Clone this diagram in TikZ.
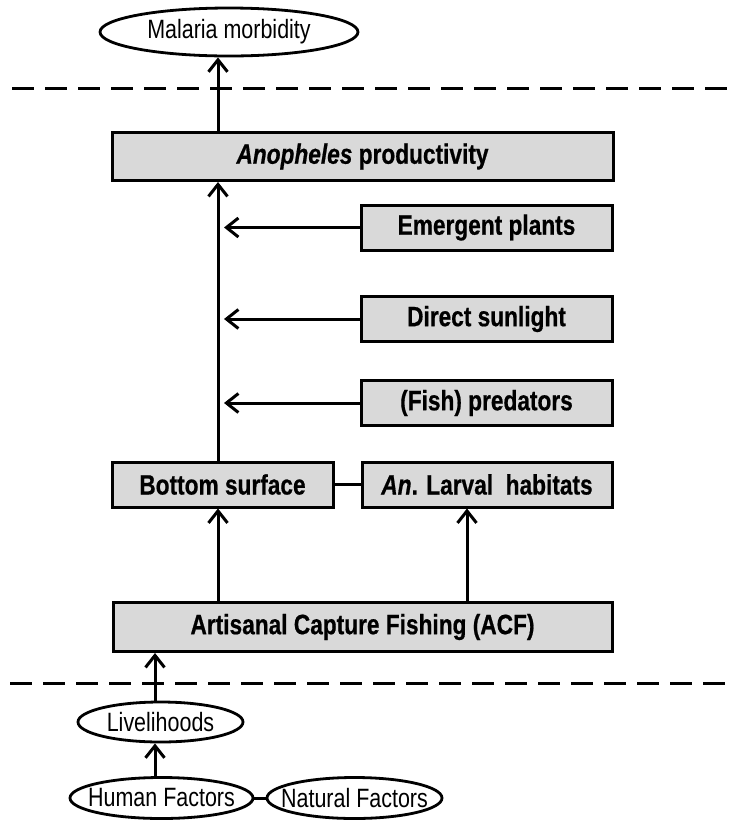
\documentclass[tikz,border=0pt]{standalone}
\usepackage{fontspec}
\setmainfont{Liberation Sans}[FakeStretch=0.81,BoldFeatures={FakeBold=0.6},BoldItalicFeatures={FakeBold=0.6}]
\usetikzlibrary{shapes.geometric,arrows.meta}
\newcommand{\zw}[1]{\makebox[0pt]{#1}}
\begin{document}
\begin{tikzpicture}[x=1pt,y=-1pt,
  box/.style={draw=black,line width=3pt,fill=gray!30,inner sep=0pt,
    font=\fontsize{28}{30}\selectfont\bfseries,align=center},
  oval/.style={draw=black,line width=2.8pt,ellipse,inner sep=0pt,
    font=\fontsize{26.5}{28}\selectfont},
  arr/.style={line width=3pt,-{Straight Barb[length=12pt,width=19pt,line width=3pt]}},
  link/.style={line width=3pt},
  sep/.style={line width=3pt,dash pattern=on 22pt off 11pt}]
\useasboundingbox (0,0) rectangle (735,820);
\node[oval,minimum width=258pt,minimum height=48pt] (mm) at (229,32) {\zw{Malaria morbidity}};
\node[box,minimum width=501pt,minimum height=48pt] (an) at (362.5,156.5) {\textit{Anopheles} productivity};
\node[box,minimum width=251pt,minimum height=45pt] (ep) at (486.5,227.5) {Emergent plants};
\node[box,minimum width=251pt,minimum height=45pt] (ds) at (486.5,319) {Direct sunlight};
\node[box,minimum width=251pt,minimum height=45pt] (fp) at (486.5,403) {(Fish) predators};
\node[box,minimum width=221pt,minimum height=45pt] (bs) at (222.5,484.5) {Bottom surface};
\node[box,minimum width=250pt,minimum height=45pt] (lh) at (487,484.5) {\textit{An}. Larval\ \ habitats};
\node[box,minimum width=499pt,minimum height=49pt] (acf) at (362.5,627) {Artisanal Capture Fishing (ACF)};
\node[oval,minimum width=165pt,minimum height=40pt] (lv) at (160.5,722) {\zw{Livelihoods}};
\node[oval,minimum width=183pt,minimum height=41pt] (hf) at (161.5,798) {\zw{Human Factors}};
\node[oval,minimum width=175pt,minimum height=41pt] (nf) at (354.5,798) {\zw{Natural Factors}};
\coordinate (spine) at (218,0);
\coordinate (tip) at (224,0);
\coordinate (lhx) at (467,0);
\coordinate (lowx) at (155,0);
\coordinate (d1a) at (12,88);
\coordinate (d1b) at (735,88);
\coordinate (d2a) at (10,683);
\coordinate (d2b) at (735,683);
\draw[sep] (d1a) -- (d1b);
\draw[sep] (d2a) -- (d2b);
\draw[arr] (an.north -| spine) -- (mm.south -| spine);
\draw[arr] (bs.north -| spine) -- (an.south -| spine);
\draw[arr] (ep.west) -- (ep.west -| tip);
\draw[arr] (ds.west) -- (ds.west -| tip);
\draw[arr] (fp.west) -- (fp.west -| tip);
\draw[link] (bs.east) -- (lh.west);
\draw[arr] (acf.north -| spine) -- (bs.south -| spine);
\draw[arr] (acf.north -| lhx) -- (lh.south -| lhx);
\draw[arr] (lv.north -| lowx) -- (acf.south -| lowx);
\draw[arr] (hf.north -| lowx) -- (lv.south -| lowx);
\draw[link] (hf.east) -- (nf.west);
\end{tikzpicture}
\end{document}
